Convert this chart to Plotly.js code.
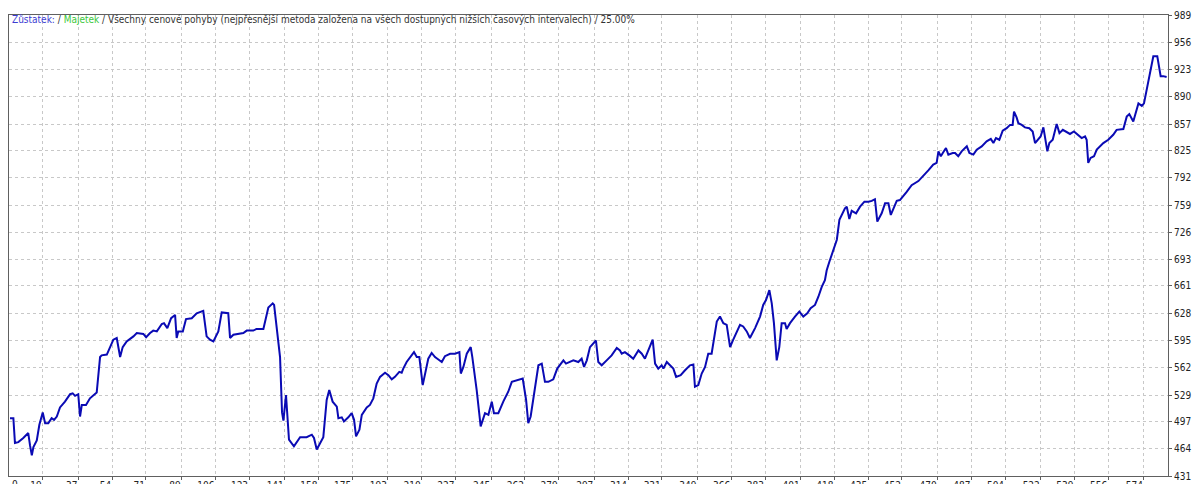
<!DOCTYPE html>
<html><head><meta charset="utf-8">
<script src="https://cdn.plot.ly/plotly-3.0.1.min.js"></script>
<style>html,body{margin:0;padding:0;background:#fff;overflow:hidden}#chart{width:1192px;height:484px;}</style>
</head><body><div id="chart"></div>
<script>
const tradeNo = [2.5,4.2,5.0,6.7,9.2,11.7,12.6,13.5,14.3,16.0,17.3,19.0,20.2,21.8,23.5,24.7,26.1,27.7,30.2,32.8,34.1,35.3,36.9,37.8,38.7,40.8,42.8,46.2,47.9,48.7,51.3,52.9,54.6,56.3,58.0,59.3,61.3,64.7,66.4,69.7,71.1,73.1,74.7,76.5,79.0,80.1,81.8,83.7,85.7,86.5,87.3,89.6,91.2,94.1,96.6,99.9,101.6,103.3,105.0,107.5,109.2,112.5,113.4,115.1,120.1,121.8,125.1,126.8,130.2,132.7,134.9,135.6,138.6,139.6,140.3,141.6,143.1,145.6,148.7,152.0,154.6,155.7,157.1,160.4,162.1,163.4,165.1,167.2,168.0,169.7,170.8,173.0,174.7,175.9,176.9,178.6,179.8,182.3,183.9,185.6,187.3,189.0,191.5,193.2,194.9,196.5,198.7,199.9,200.7,202.4,205.0,206.1,207.5,208.8,210.5,211.7,213.3,215.0,216.7,218.4,220.1,221.7,224.3,226.8,229.0,229.7,231.0,232.7,234.7,235.5,236.4,237.7,239.7,241.9,243.6,245.3,246.4,248.6,251.1,253.6,255.4,258.7,260.9,262.6,263.7,264.9,267.1,268.8,270.5,272.1,273.8,276.3,278.3,281.4,282.7,284.4,286.4,288.9,290.6,291.8,293.2,294.8,296.8,297.8,299.0,300.7,303.2,305.7,308.3,309.9,310.8,312.4,314.6,316.6,319.2,320.9,322.5,325.0,326.4,327.6,329.2,330.9,331.8,333.5,335.1,336.8,338.2,340.5,342.7,345.2,346.9,347.7,349.4,351.1,352.8,354.4,356.1,357.3,358.7,360.3,362.0,363.7,365.4,367.0,368.7,370.4,372.0,373.8,375.4,378.0,380.5,382.1,383.5,385.2,386.4,387.5,388.9,390.2,391.4,393.1,393.9,395.6,398.1,400.3,402.3,404.3,406.0,408.2,409.9,411.6,413.2,414.1,415.4,417.4,419.2,420.5,421.7,423.3,424.2,425.5,426.7,428.9,430.9,433.1,435.1,436.8,438.4,439.6,441.8,443.5,445.2,446.4,449.4,451.0,454.4,456.9,460.3,462.8,465.3,467.8,469.5,470.4,471.6,472.6,474.2,475.4,477.6,478.8,480.4,482.1,484.7,486.0,488.0,489.7,492.2,494.7,496.8,498.1,499.4,501.1,502.8,504.8,506.5,507.8,508.5,509.8,510.7,512.4,514.0,516.2,517.9,519.1,520.7,521.9,523.3,524.5,525.3,526.3,528.0,530.0,531.4,533.1,535.1,536.7,538.7,540.9,542.6,544.3,545.1,545.9,547.1,548.8,550.2,553.5,556.0,558.5,560.2,563.6,565.3,566.6,568.6,571.2,572.9,574.0,577.0,578.7,580.7,582.4,583.7,585.4];
const balance = [501,501,471,472,477,483,468,456,466,474,493,508,495,495,501,499,503,514,521,530,531,528,530,503,517,517,525,532,575,577,578,587,596,598,575,587,594,600,604,603,599,604,607,606,615,616,610,622,626,598,606,606,621,622,628,631,600,596,594,606,629,628,598,602,604,607,607,609,609,635,640,638,575,508,498,529,475,467,478,478,481,477,463,478,523,535,521,515,501,502,497,502,507,499,479,487,505,514,517,525,543,551,556,553,548,551,557,556,561,569,577,581,575,575,541,555,573,580,575,572,569,576,579,579,581,555,563,579,587,575,559,535,491,507,505,521,507,507,521,533,545,547,549,523,495,503,539,565,567,545,545,548,561,571,567,569,571,569,573,563,571,587,592,595,569,565,571,577,586,583,579,581,577,573,583,579,573,587,596,567,561,565,561,569,565,561,551,553,559,565,566,539,541,555,563,579,579,600,618,624,616,614,587,596,604,614,612,606,598,610,624,638,644,656,640,616,571,587,616,616,609,616,624,630,624,628,634,638,648,660,668,680,690,705,717,741,747,755,757,742,752,749,757,763,763,764,766,739,749,761,761,747,764,765,775,783,788,794,801,808,810,824,818,822,828,820,822,822,818,824,830,822,820,826,830,836,839,834,840,838,849,852,856,856,872,865,858,856,853,852,848,834,838,842,853,838,824,834,838,857,846,850,847,845,848,844,840,842,838,810,816,818,826,834,838,844,850,851,866,869,860,882,879,882,918,939,939,915,915,914];

const xTickVals = [0,19,37,54,71,89,106,123,141,158,175,193,210,227,245,262,279,297,314,331,349,366,383,401,418,435,452,470,487,504,522,539,556,574];
const xTickText = ["0","19","37","54","71","89","106","123","141","158","175","193","210","227","245","262","279","297","314","331","349","366","383","401","418","435","452","470","487","504","522","539","556","574"];
const yTickVals = [431,464,497,529,562,595,628,661,693,726,759,792,825,857,890,923,956,989];
const yTickText = ["431","464","497","529","562","595","628","661","693","726","759","792","825","857","890","923","956","989"];

const legendBalance = "Zůstatek:";
const legendEquity = "Majetek";
const legendRest = "Všechny cenové pohyby (nejpřesnější metoda založena na všech dostupných nižších časových intervalech) / 25.00%";

const FONT = "Tahoma, 'DejaVu Sans Condensed', 'Liberation Sans', sans-serif";

const titleText = '<span style="color:#3c3cd2">' + legendBalance + '</span> / ' +
  '<span style="color:#3cc83c">' + legendEquity + '</span> / ' + legendRest;

const trace = {
  x: tradeNo, y: balance, type: 'scatter', mode: 'lines',
  line: {color: '#0a0ab4', width: 2}, hoverinfo: 'skip'
};

const axisCommon = {
  showgrid: true, gridcolor: '#c8c8c8', gridwidth: 1, griddash: '3px,3px',
  showline: true, linecolor: '#606060', linewidth: 1, mirror: true,
  zeroline: false, ticks: 'outside', ticklen: 3, tickcolor: '#606060',
  tickfont: {family: FONT, size: 10, color: '#222'}, fixedrange: true
};

const layout = {
  width: 1192, height: 484,
  margin: {l: 9, r: 24, t: 15, b: 8, pad: 0},
  paper_bgcolor: '#fff', plot_bgcolor: '#fff',
  showlegend: false,
  title: {
    text: titleText, xref: 'container', yref: 'container',
    x: 12/1192, xanchor: 'left', y: 1 - 19/484, yanchor: 'middle',
    font: {family: FONT, size: 10, color: '#333'}
  },
  xaxis: Object.assign({}, axisCommon, {
    range: [2, 586.1], tickmode: 'array', tickvals: xTickVals, ticktext: xTickText,
    ticklabelposition: 'outside left'
  }),
  yaxis: Object.assign({}, axisCommon, {
    side: 'right', range: [431, 989], tickmode: 'array', tickvals: yTickVals, ticktext: yTickText
  }),
  annotations: [{
    xref: 'paper', yref: 'paper', x: 0, y: 0, xanchor: 'left', yanchor: 'top',
    xshift: 1, yshift: -1, text: xTickText[0], showarrow: false,
    font: {family: FONT, size: 10, color: '#222'}
  }]
};

Plotly.newPlot('chart', [trace], layout, {staticPlot: true, displayModeBar: false});
</script></body></html>
